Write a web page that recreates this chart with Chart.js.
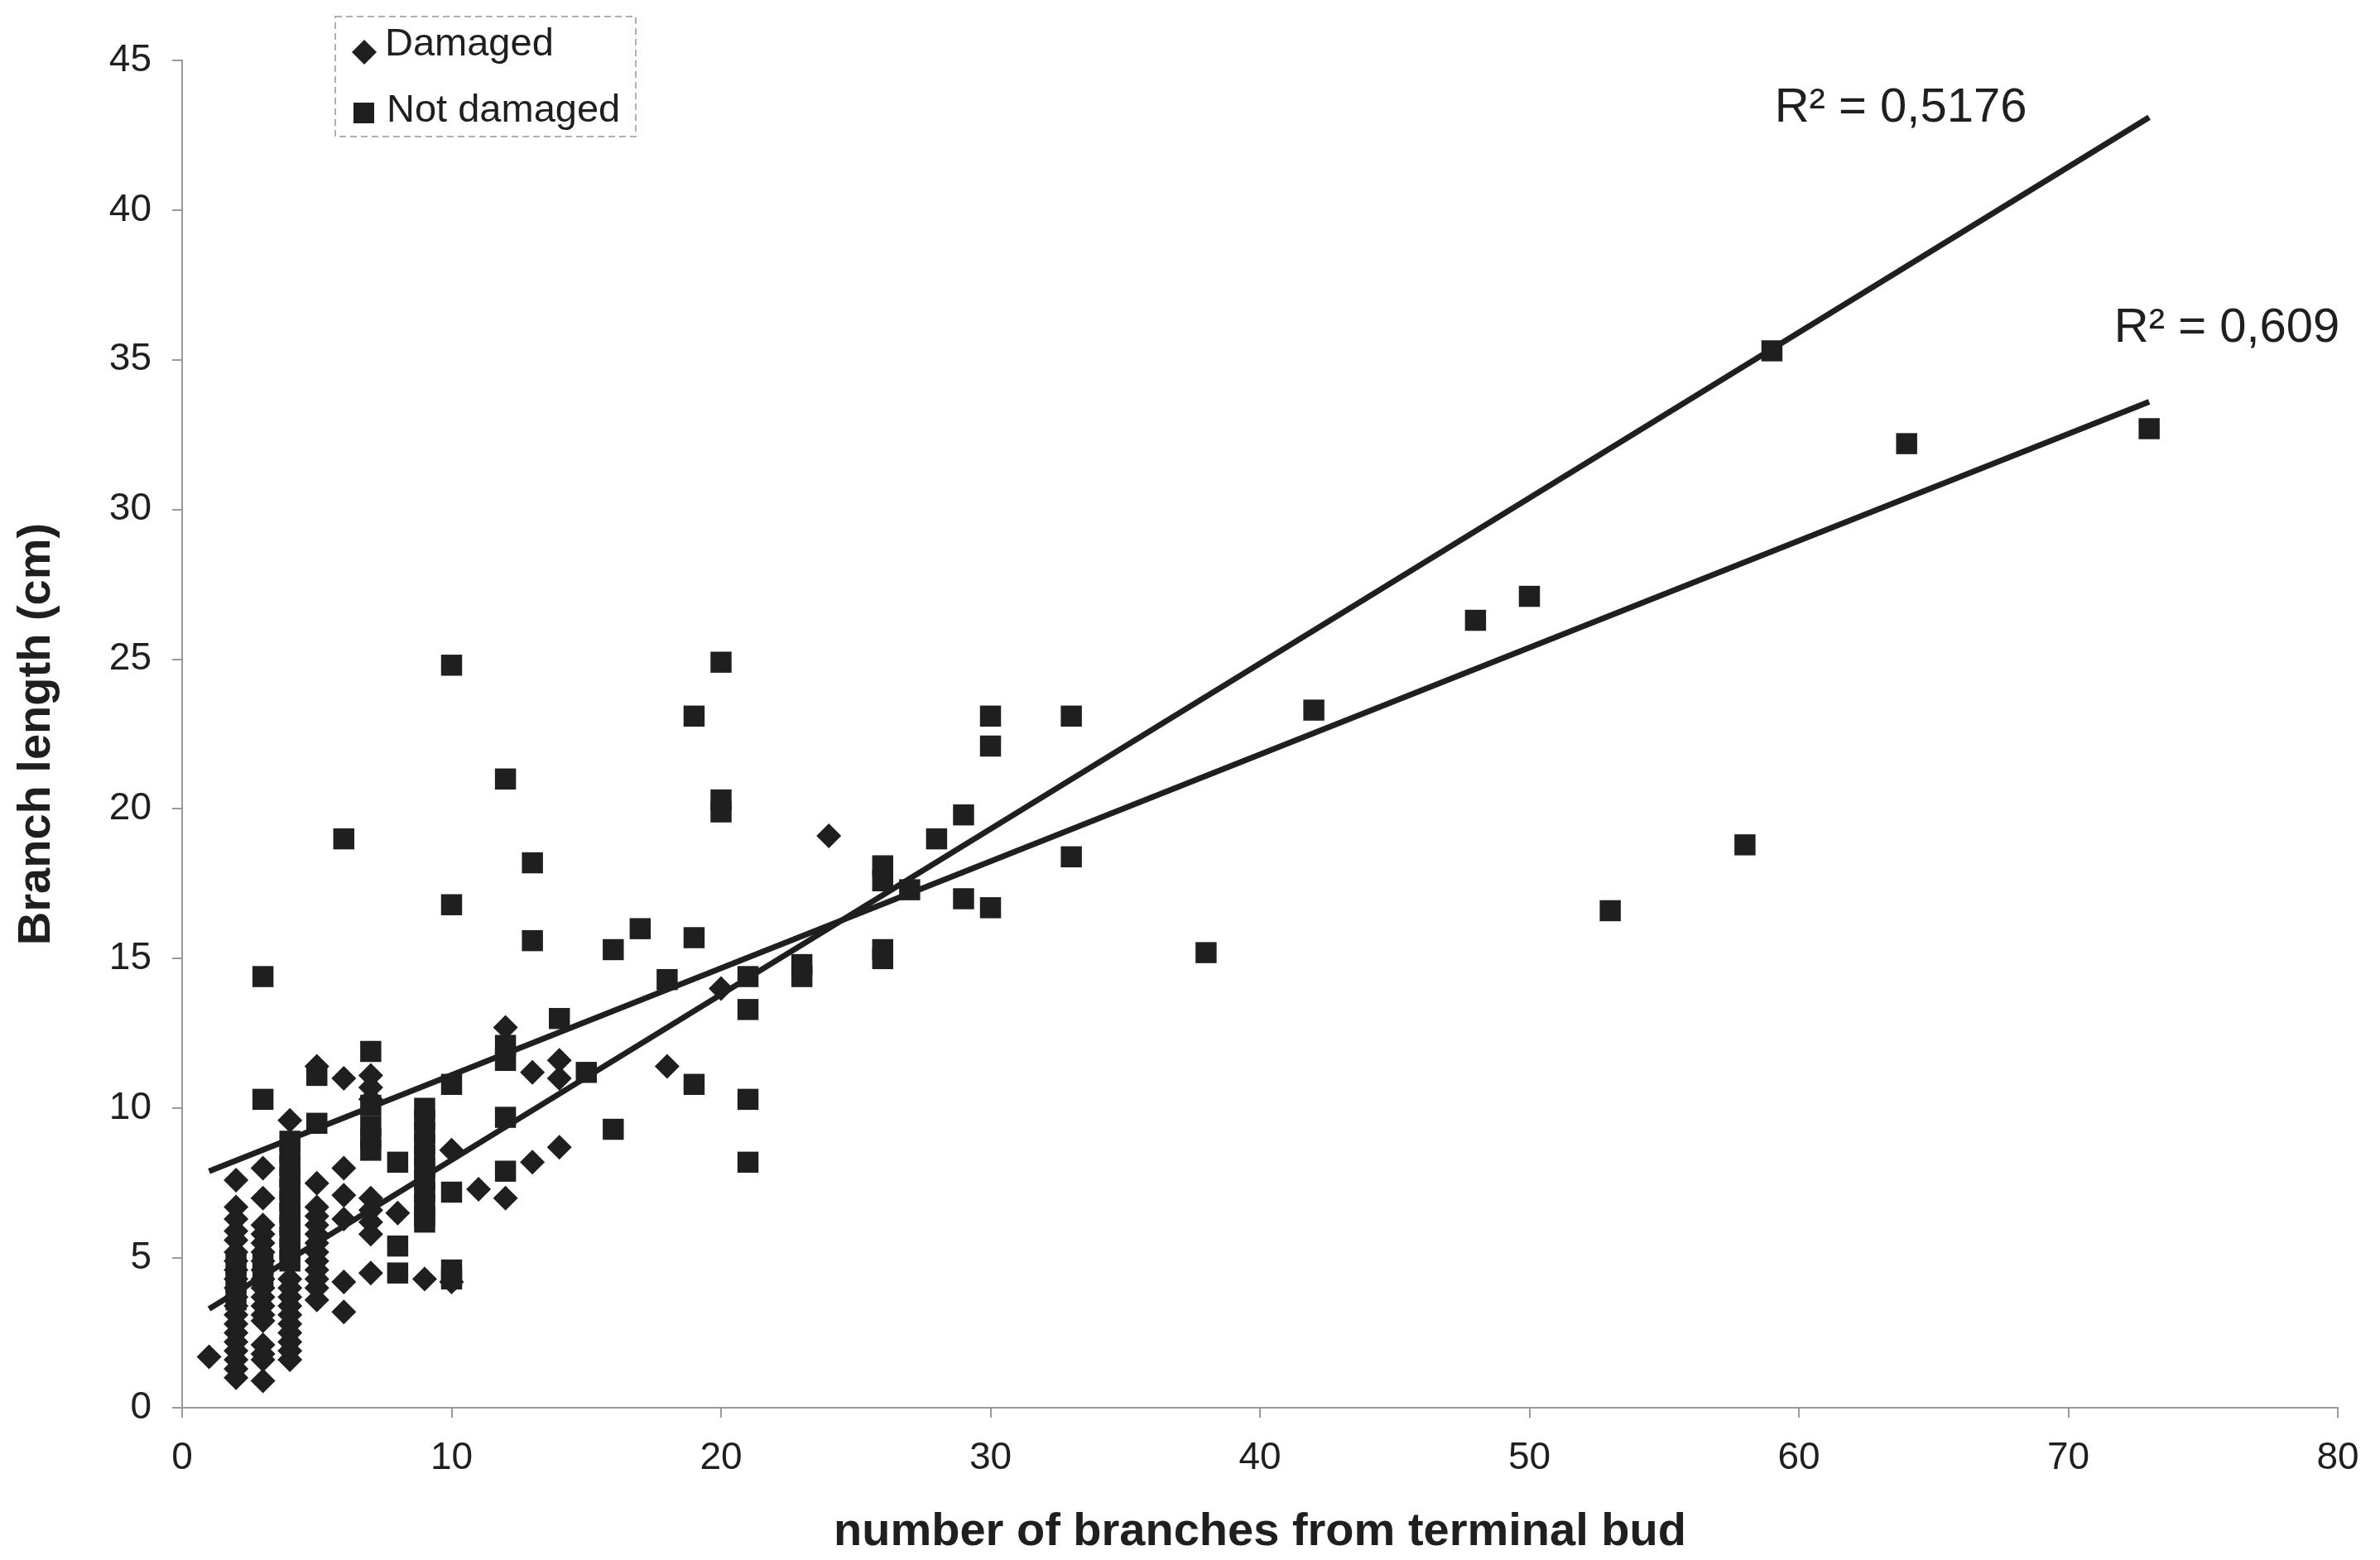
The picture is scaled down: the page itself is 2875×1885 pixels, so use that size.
<!DOCTYPE html>
<html>
<head>
<meta charset="utf-8">
<title>Branch length vs number of branches</title>
<script src="https://cdn.jsdelivr.net/npm/chart.js@4.4.1/dist/chart.umd.min.js"></script>
<style>
  html, body { margin: 0; padding: 0; background: #fff; }
  #wrap { width: 2875px; height: 1885px; position: relative; }
</style>
</head>
<body>
<div id="wrap"><canvas id="grafico"></canvas></div>
<script>
// =========================
// Dados
// =========================

const seriesNames = ['Damaged', 'Not damaged'];

// [número de ramos, comprimento (cm)]
const damagedPoints = [
  [1, 1.7],
  [2, 7.6], [2, 6.7], [2, 6.3], [2, 5.9], [2, 5.6], [2, 5.2], [2, 4.9], [2, 4.6], [2, 4.3], [2, 4.0],
  [2, 3.7], [2, 3.4], [2, 3.1], [2, 2.8], [2, 2.5], [2, 2.2], [2, 1.9], [2, 1.6], [2, 1.3], [2, 1.0],
  [3, 8.0], [3, 7.0], [3, 6.1], [3, 5.8], [3, 5.5], [3, 5.2], [3, 4.9], [3, 4.6], [3, 4.3], [3, 4.0],
  [3, 3.7], [3, 3.4], [3, 3.1], [3, 2.9], [3, 2.1], [3, 1.8], [3, 1.6], [3, 0.9],
  [4, 9.6], [4, 4.3], [4, 4.0], [4, 3.7], [4, 3.4], [4, 3.1], [4, 2.8], [4, 2.5], [4, 2.2], [4, 1.9], [4, 1.6],
  [5, 11.4], [5, 7.5], [5, 6.7], [5, 6.4], [5, 6.1], [5, 5.8], [5, 5.5], [5, 5.2], [5, 4.9], [5, 4.6],
  [5, 4.3], [5, 4.0], [5, 3.6],
  [6, 11.0], [6, 8.0], [6, 7.1], [6, 6.3], [6, 4.2], [6, 3.2],
  [7, 11.1], [7, 10.7], [7, 10.3], [7, 7.0], [7, 6.6], [7, 6.2], [7, 5.8], [7, 4.5],
  [8, 6.5], [9, 4.3], [10, 8.6], [10, 4.2], [11, 7.3],
  [12, 12.7], [12, 7.0], [13, 11.2], [13, 8.2], [14, 11.6], [14, 11.0], [14, 8.7],
  [18, 11.4], [20, 14.0], [24, 19.1]
];

const notDamagedPoints = [
  [2, 4.8], [2, 4.2], [2, 3.6],
  [3, 14.4], [3, 10.3], [3, 4.8], [3, 4.4],
  [4, 8.9], [4, 8.5], [4, 8.1], [4, 7.7], [4, 7.3], [4, 6.9], [4, 6.5], [4, 6.1], [4, 5.7], [4, 5.3], [4, 4.9],
  [5, 11.1], [5, 9.5],
  [6, 19.0],
  [7, 11.9], [7, 10.1], [7, 9.4], [7, 9.0], [7, 8.6],
  [8, 8.2], [8, 5.4], [8, 4.5],
  [9, 10.0], [9, 9.6], [9, 9.2], [9, 8.8], [9, 8.4], [9, 8.0], [9, 7.6], [9, 7.2], [9, 6.8], [9, 6.4], [9, 6.2],
  [10, 24.8], [10, 16.8], [10, 10.8], [10, 7.2], [10, 4.6], [10, 4.3],
  [12, 21.0], [12, 12.1], [12, 11.6], [12, 9.7], [12, 7.9],
  [13, 18.2], [13, 15.6], [14, 13.0], [15, 11.2], [16, 15.3], [16, 9.3], [17, 16.0], [18, 14.3],
  [19, 23.1], [19, 15.7], [19, 10.8],
  [20, 24.9], [20, 20.3], [20, 19.9],
  [21, 14.4], [21, 13.3], [21, 10.3], [21, 8.2],
  [23, 14.8], [23, 14.4],
  [26, 18.1], [26, 17.6], [26, 15.3], [26, 15.0],
  [27, 17.3], [28, 19.0], [29, 19.8], [29, 17.0],
  [30, 23.1], [30, 22.1], [30, 16.7],
  [33, 23.1], [33, 18.4],
  [38, 15.2], [42, 23.3], [48, 26.3], [50, 27.1], [53, 16.6], [58, 18.8],
  [59, 35.3], [64, 32.2], [73, 32.7]
];

// Retas de tendência (extremos)
const trendAX = [1, 73];
const trendAY = [3.3, 43.1];
const trendBX = [1, 73];
const trendBY = [7.9, 33.6];

const r2Labels = ['R\u00B2 = 0,5176', 'R\u00B2 = 0,609'];

const xTitle = 'number of branches from terminal bud';
const yTitle = 'Branch length (cm)';

// =========================
// Montagem
// =========================

const toXY = pares => pares.map(p => ({ x: p[0], y: p[1] }));
const linha = (xs, ys) => xs.map((x, i) => ({ x: x, y: ys[i] }));

const FONTE = "'Liberation Sans', Arial, Helvetica, sans-serif";
const TINTA = '#1f1f1f';
const EIXO = '#9a9a9a';

// Legenda e rótulos R² desenhados por cima
const extras = {
  id: 'extras',
  afterDraw(chart) {
    const ctx = chart.ctx;
    const xs = chart.scales.x;
    const ys = chart.scales.y;
    ctx.save();

    // R² perto do fim de cada reta
    ctx.fillStyle = TINTA;
    ctx.font = '58px ' + FONTE;
    ctx.textBaseline = 'alphabetic';
    ctx.textAlign = 'left';
    ctx.fillText(r2Labels[0], xs.getPixelForValue(59.1), ys.getPixelForValue(42.95));
    ctx.fillText(r2Labels[1], xs.getPixelForValue(71.7), ys.getPixelForValue(35.6));

    // caixa da legenda
    ctx.strokeStyle = '#b0b0b0';
    ctx.lineWidth = 2;
    ctx.setLineDash([8, 5]);
    ctx.strokeRect(405, 20, 363, 145);
    ctx.setLineDash([]);

    // losango
    ctx.fillStyle = TINTA;
    ctx.beginPath();
    ctx.moveTo(440, 48);
    ctx.lineTo(455, 63);
    ctx.lineTo(440, 78);
    ctx.lineTo(425, 63);
    ctx.closePath();
    ctx.fill();
    // quadrado
    ctx.fillRect(427, 124, 25, 25);

    ctx.font = '47px ' + FONTE;
    ctx.fillText(seriesNames[0], 465, 67);
    ctx.fillText(seriesNames[1], 467, 147);

    ctx.restore();
  }
};

const ctx = document.getElementById('grafico').getContext('2d');

new Chart(ctx, {
  type: 'scatter',
  data: {
    datasets: [
      {
        label: 'Trend A',
        data: linha(trendAX, trendAY),
        showLine: true,
        borderColor: TINTA,
        borderWidth: 7,
        pointRadius: 0,
        order: 0
      },
      {
        label: 'Trend B',
        data: linha(trendBX, trendBY),
        showLine: true,
        borderColor: TINTA,
        borderWidth: 7,
        pointRadius: 0,
        order: 0
      },
      {
        label: seriesNames[0],
        data: toXY(damagedPoints),
        pointStyle: 'rectRot',
        pointRadius: 15,
        backgroundColor: TINTA,
        borderColor: TINTA,
        borderWidth: 0,
        order: 1
      },
      {
        label: seriesNames[1],
        data: toXY(notDamagedPoints),
        pointStyle: 'rect',
        pointRadius: 18,
        backgroundColor: TINTA,
        borderColor: TINTA,
        borderWidth: 0,
        order: 2
      }
    ]
  },
  options: {
    responsive: true,
    maintainAspectRatio: false,
    animation: false,
    layout: { padding: { left: 0, top: 73, right: 51, bottom: 0 } },
    plugins: {
      legend: { display: false },
      tooltip: { enabled: false }
    },
    scales: {
      x: {
        type: 'linear',
        min: 0,
        max: 80,
        ticks: { stepSize: 10, color: TINTA, font: { family: FONTE, size: 46 }, padding: 22 },
        border: { color: EIXO, width: 2 },
        grid: { drawOnChartArea: false, drawTicks: true, tickLength: 12, color: EIXO, lineWidth: 2 },
        title: {
          display: true,
          text: xTitle,
          color: TINTA,
          font: { family: FONTE, size: 56, weight: 'bold' },
          padding: { top: 0, bottom: 0 }
        },
        afterFit: scale => { scale.height = 184; }
      },
      y: {
        type: 'linear',
        min: 0,
        max: 45,
        ticks: { stepSize: 5, color: TINTA, font: { family: FONTE, size: 46 }, padding: 25 },
        border: { color: EIXO, width: 2 },
        grid: { drawOnChartArea: false, drawTicks: true, tickLength: 12, color: EIXO, lineWidth: 2 },
        title: {
          display: true,
          text: yTitle,
          color: TINTA,
          font: { family: FONTE, size: 56, weight: 'bold' },
          padding: { top: 11, bottom: 0 }
        },
        afterFit: scale => { scale.width = 220; }
      }
    }
  },
  plugins: [extras]
});
</script>
</body>
</html>
